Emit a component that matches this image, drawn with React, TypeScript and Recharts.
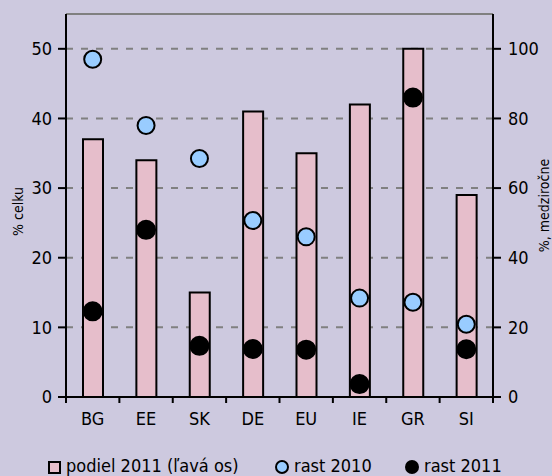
import React from 'react'
import { ComposedChart, Bar, Line, XAxis, YAxis, CartesianGrid, ReferenceLine } from 'recharts'

const countries = ['BG', 'EE', 'SK', 'DE', 'EU', 'IE', 'GR', 'SI']
// podiel 2011, % celku (ľavá os)
const share2011 = [37, 34, 15, 41, 35, 42, 50, 29]
// rast, %, medziročne (pravá os)
const growth2010 = [97, 78, 68.5, 50.7, 46, 28.4, 27.2, 20.9]
const growth2011 = [24.6, 48, 14.7, 13.8, 13.6, 3.7, 86, 13.7]
const leftTicks = [0, 10, 20, 30, 40, 50]
const rightTicks = [0, 20, 40, 60, 80, 100]

const FONT = '"DejaVu Sans Condensed", "DejaVu Sans", sans-serif'
const BG = '#cdc9df'
const PINK = '#e6becb'
const BLUE = '#99ccff'
const W = 552
const H = 476
const FS = 18

const data = countries.map((name, i) => ({
  name,
  share: share2011[i],
  g2010: growth2010[i],
  g2011: growth2011[i],
}))

// category label plus boundary tick marks between categories
function CountryTick(props: any) {
  const { x, y, payload, index } = props
  const half = payload?.offset ?? (W - 66 - 59) / countries.length / 2
  const axisY = y - 8
  const last = index === countries.length - 1
  return (
    <g>
      <line x1={x - half} x2={x - half} y1={axisY} y2={axisY + 6} stroke="#000" strokeWidth={2} />
      {last && <line x1={x + half} x2={x + half} y1={axisY} y2={axisY + 6} stroke="#000" strokeWidth={2} />}
      <text x={x} y={axisY + 28} textAnchor="middle" fill="#000" fontSize={FS} fontFamily={FONT}>
        {payload.value}
      </text>
    </g>
  )
}

const dotOf = (fill: string, r: number) => (p: any) => (
  <circle key={`d-${p.index}`} cx={p.cx} cy={p.cy} r={r} fill={fill} stroke="#000" strokeWidth={2} />
)

const leftTitle = (p: any) => {
  const vb = p.viewBox
  const x = vb.x + 7
  const y = vb.y + vb.height / 2 + 6
  return (
    <text x={x} y={y} transform={`rotate(-90, ${x}, ${y})`} textAnchor="middle" fill="#000" fontSize={14} fontFamily={FONT}>
      % celku
    </text>
  )
}

const rightTitle = (p: any) => {
  const vb = p.viewBox
  const x = vb.x + 55.5
  const y = vb.y + vb.height / 2
  return (
    <text x={x} y={y} transform={`rotate(-90, ${x}, ${y})`} textAnchor="middle" fill="#000" fontSize={14} fontFamily={FONT}>
      %, medziročne
    </text>
  )
}

const tickStyle = { fill: '#000', fontSize: FS, fontFamily: FONT }

function LegendRow() {
  const text: React.CSSProperties = { position: 'absolute', top: 0, lineHeight: '20px', fontSize: FS, fontFamily: FONT, color: '#000', whiteSpace: 'nowrap' }
  return (
    <div style={{ position: 'absolute', left: 0, top: 456, width: W, height: 20 }}>
      <div style={{ position: 'absolute', left: 48, top: 5, width: 9, height: 9, background: PINK, border: '2px solid #000' }} />
      <div style={{ ...text, left: 66 }}>podiel 2011 (ľavá os)</div>
      <div style={{ position: 'absolute', left: 275, top: 4, width: 10, height: 10, borderRadius: '50%', background: BLUE, border: '2px solid #000' }} />
      <div style={{ ...text, left: 294 }}>rast 2010</div>
      <div style={{ position: 'absolute', left: 405, top: 4, width: 14, height: 14, borderRadius: '50%', background: '#000' }} />
      <div style={{ ...text, left: 424 }}>rast 2011</div>
    </div>
  )
}

export default function App() {
  return (
    <div style={{ position: 'fixed', left: 0, top: 0, width: W, height: H, background: BG, overflow: 'hidden' }}>
      <ComposedChart
        width={W}
        height={H}
        data={data}
        margin={{ top: 14, right: 9, bottom: 39, left: 16 }}
        barSize={20}
      >
        <CartesianGrid yAxisId="left" vertical={false} stroke="#808080" strokeWidth={2} strokeDasharray="7 8" />
        <XAxis
          dataKey="name"
          height={40}
          interval={0}
          tickLine={false}
          tickSize={6}
          tickMargin={2}
          axisLine={{ stroke: '#000', strokeWidth: 2 }}
          tick={<CountryTick />}
        />
        <YAxis
          yAxisId="left"
          width={50}
          domain={[0, 55]}
          ticks={leftTicks}
          interval={0}
          tickSize={8}
          tickMargin={6}
          axisLine={{ stroke: '#000', strokeWidth: 2 }}
          tickLine={{ stroke: '#000', strokeWidth: 2 }}
          tick={tickStyle}
          label={{ content: leftTitle }}
        />
        <YAxis
          yAxisId="right"
          orientation="right"
          width={50}
          domain={[0, 110]}
          ticks={rightTicks}
          interval={0}
          tickSize={8}
          tickMargin={7}
          axisLine={{ stroke: '#000', strokeWidth: 2 }}
          tickLine={{ stroke: '#000', strokeWidth: 2 }}
          tick={tickStyle}
          label={{ content: rightTitle }}
        />
        <ReferenceLine yAxisId="left" y={55} stroke="#808080" strokeWidth={2} />
        <Bar yAxisId="left" dataKey="share" fill={PINK} stroke="#000" strokeWidth={2} isAnimationActive={false} />
        <Line
          yAxisId="right"
          dataKey="g2010"
          stroke="none"
          dot={dotOf(BLUE, 8.5)}
          activeDot={false}
          isAnimationActive={false}
        />
        <Line
          yAxisId="right"
          dataKey="g2011"
          stroke="none"
          dot={dotOf('#000', 9)}
          activeDot={false}
          isAnimationActive={false}
        />
      </ComposedChart>
      <LegendRow />
    </div>
  )
}
